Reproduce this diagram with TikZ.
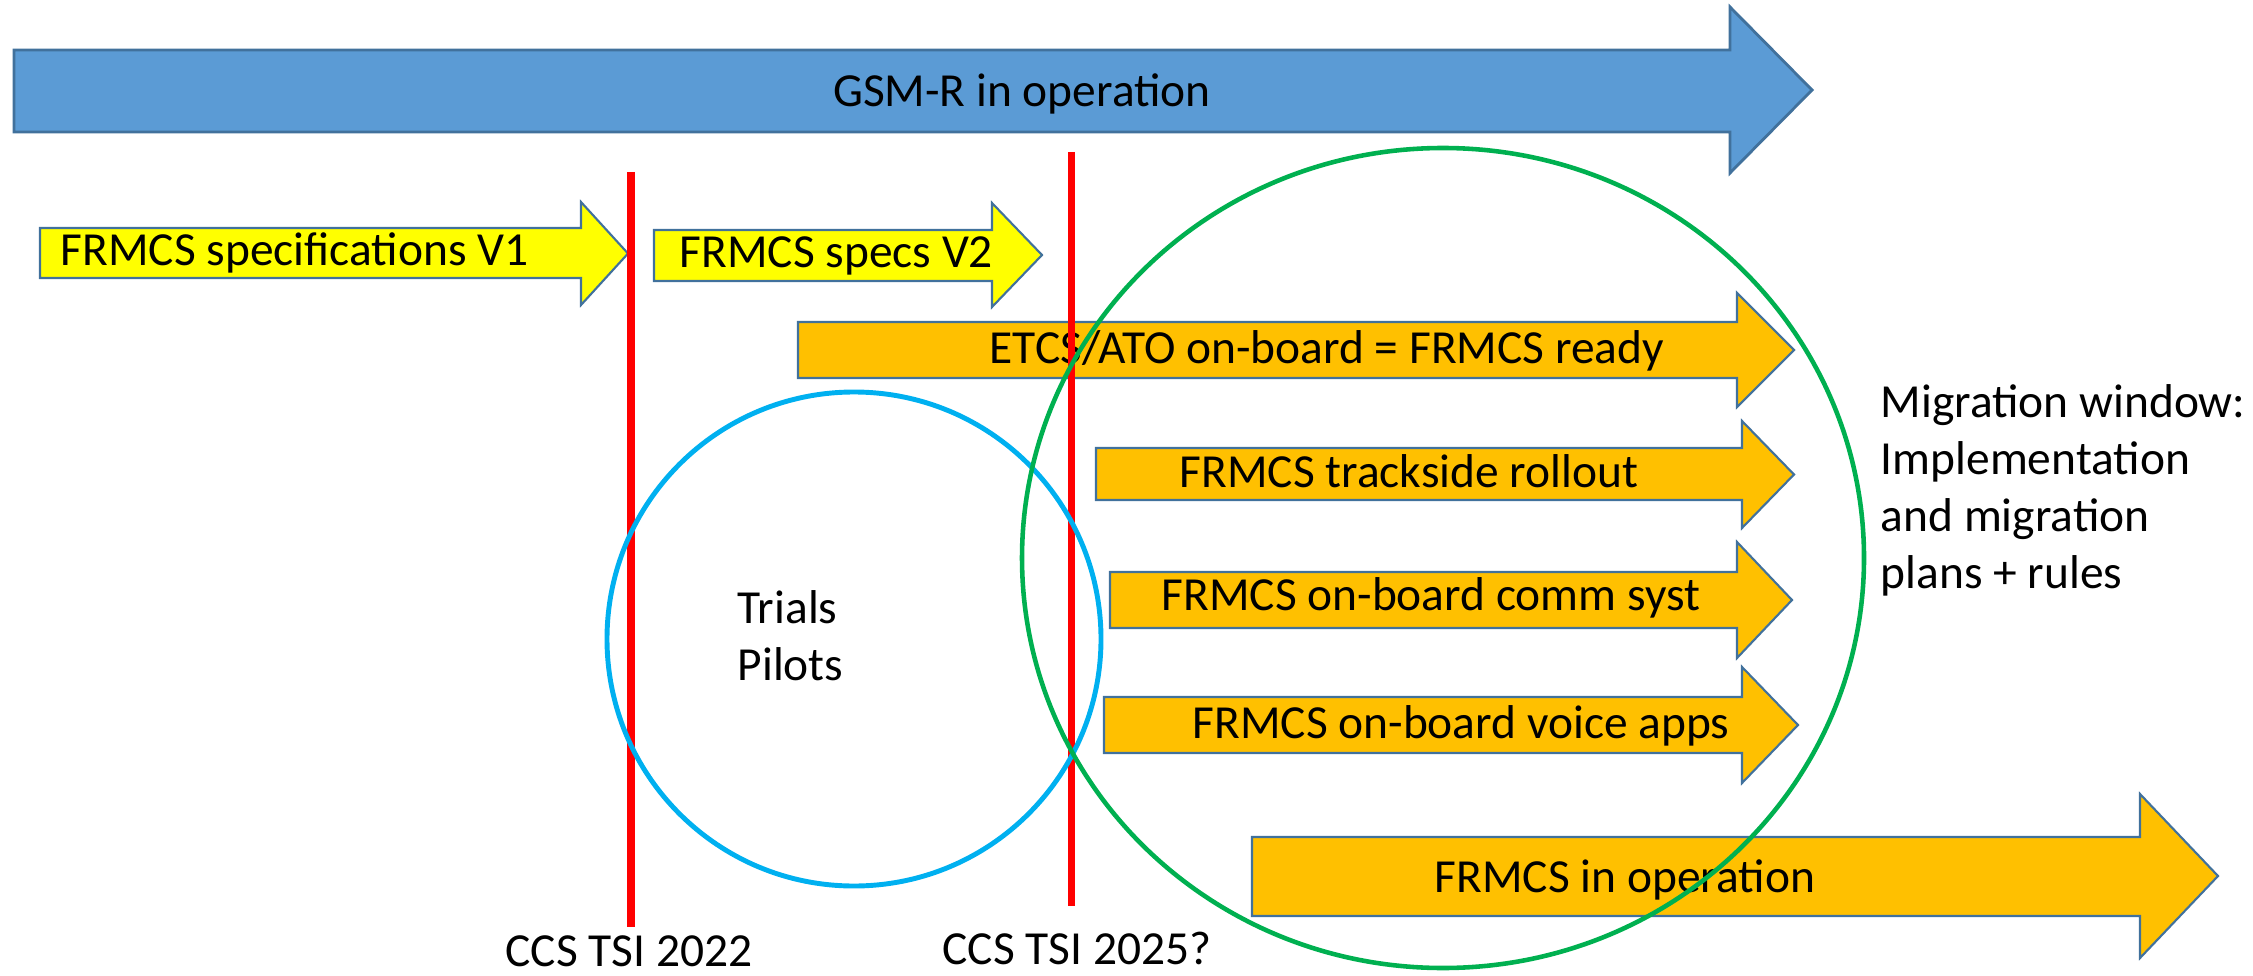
\documentclass[tikz,border=0pt]{standalone}
\usepackage{fontspec}
\setmainfont{Carlito}

\definecolor{gsmblue}{HTML}{5B9BD5}
\definecolor{edgeblue}{HTML}{41719C}
\definecolor{specyellow}{HTML}{FFFF00}
\definecolor{rollorange}{HTML}{FFC000}
\definecolor{tsired}{HTML}{FF0000}
\definecolor{trialcyan}{HTML}{00B0F0}
\definecolor{migrgreen}{HTML}{00B050}

\newcommand{\blockarrow}[8]{%
  \draw [#1] (#2,#3) -- (#5,#3) -- (#5,#6) -- (#8,{(#6+#7)/2})
    -- (#5,#7) -- (#5,#4) -- (#2,#4) -- cycle;}

\begin{document}
\begin{tikzpicture}
        [x=0.1mm, y=-0.1mm,
         font=\fontsize{13.5}{16.2}\selectfont,
         gsm/.style={draw=edgeblue, line width=0.8pt, fill=gsmblue},
         spec/.style={draw=edgeblue, line width=0.6pt, fill=specyellow},
         roll/.style={draw=edgeblue, line width=0.6pt, fill=rollorange},
         tsi/.style={draw=tsired, line width=2pt},
         arrowtext/.style={inner sep=0pt, anchor=base west}]
        \useasboundingbox (0,0) rectangle (2253,975);

        \blockarrow{gsm}{14}{50}{132}{1730}{7}{173}{1812}
        \node (gsm op) [arrowtext, anchor=base] at (1022,107) {GSM-R in operation};

        \blockarrow{spec}{40}{228}{278}{581}{202}{305}{628}
        \node (specs v1) [arrowtext] at (60,265) {FRMCS specifications V1};
        \blockarrow{spec}{654}{230}{281}{992}{203}{307}{1042}
        \node (specs v2) [arrowtext] at (679,268) {FRMCS specs V2};

        \blockarrow{roll}{798}{322}{378}{1737}{293}{407}{1794}
        \node (etcs ready) [arrowtext] at (989,363) {ETCS/ATO on-board = FRMCS ready};
        \blockarrow{roll}{1096}{448}{500}{1742}{421}{528}{1794}
        \node (trackside) [arrowtext] at (1179,487) {FRMCS trackside rollout};
        \blockarrow{roll}{1110}{572}{628}{1737}{542}{658}{1792}
        \node (comm syst) [arrowtext] at (1161,610) {FRMCS on-board comm syst};
        \blockarrow{roll}{1104}{697}{753}{1742}{667}{783}{1798}
        \node (voice apps) [arrowtext] at (1192,738) {FRMCS on-board voice apps};
        \blockarrow{roll}{1252}{837}{916}{2140}{794}{958}{2218}
        \node (frmcs op) [arrowtext] at (1434,892) {FRMCS in operation};

        \coordinate (tsi22 top) at (631,172);
        \coordinate (tsi22 end) at (631,927);
        \coordinate (tsi25 top) at (1071,152);
        \coordinate (tsi25 end) at (1071,906);
        \draw [tsi] (tsi22 top) -- (tsi22 end);
        \draw [tsi] (tsi25 top) -- (tsi25 end);
        \node (tsi22) [arrowtext, anchor=base] at (629,966) {CCS TSI 2022};
        \node (tsi25) [arrowtext, anchor=base] at (1077,964) {CCS TSI 2025?};

        \draw [trialcyan, line width=1.4pt] (854,639) circle [radius=247];
        \draw [migrgreen, line width=1.3pt] (1443,558) ellipse [x radius=421, y radius=410];

        \node (trials) [arrowtext, align=left] at (737,680) {Trials\\Pilots};
        \node (migration) [arrowtext, align=left] at (1880,588)
            {Migration window:\\Implementation\\and migration\\plans + rules};
    \end{tikzpicture}
\end{document}
